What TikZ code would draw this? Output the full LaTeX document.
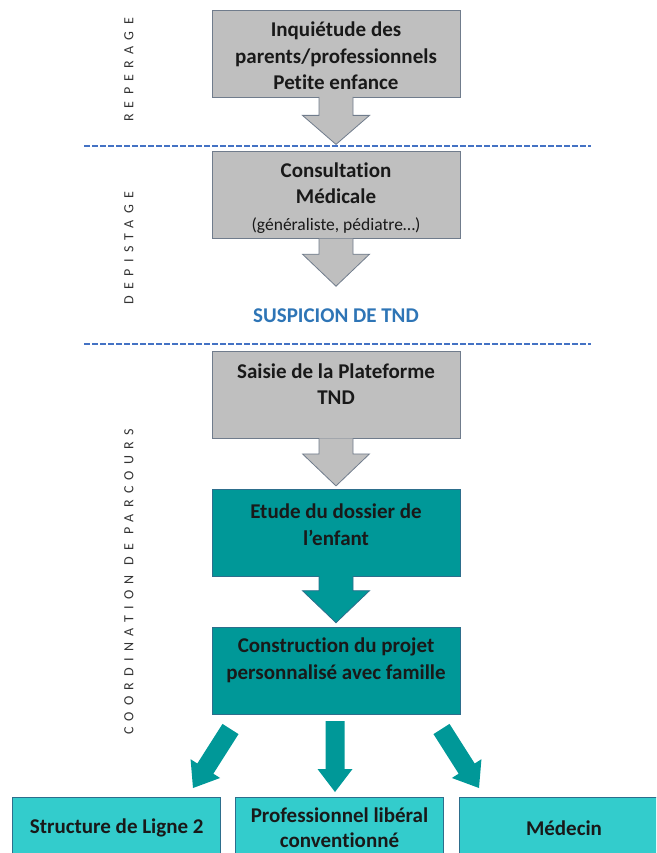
\documentclass[tikz,border=0pt]{standalone}
\usepackage{fontspec}
\setmainfont{Carlito}[Ligatures=NoCommon]
\usetikzlibrary{calc, positioning}
\definecolor{boxgray}{RGB}{191,191,191}
\definecolor{grayline}{RGB}{112,124,140}
\definecolor{tealdark}{RGB}{0,152,152}
\definecolor{tealline}{RGB}{45,110,140}
\definecolor{teallight}{RGB}{51,204,204}
\definecolor{dashblue}{RGB}{68,114,196}
\definecolor{suspblue}{RGB}{46,117,182}
\definecolor{txt}{RGB}{25,25,25}

% block arrow: [style]{from}{tip}{half shaft}{half head}{head length}
\newcommand{\blockarrow}[6][]{%
	\coordinate (ba-s) at (#2);
	\coordinate (ba-t) at (#3);
	\coordinate (ba-h) at ($(ba-t)!#6!(ba-s)$);
	\path[#1] ($(ba-s)!#4!90:(ba-t)$) -- ($(ba-h)!#4!90:(ba-t)$) -- ($(ba-h)!#5!90:(ba-t)$) -- (ba-t)
		-- ($(ba-h)!#5!-90:(ba-t)$) -- ($(ba-h)!#4!-90:(ba-t)$) -- ($(ba-s)!#4!-90:(ba-t)$);
}

\begin{document}
\begin{tikzpicture}[x=1pt, y=1pt,
		box/.style={rectangle, minimum width=248pt, minimum height=87pt, inner sep=0pt, line width=0.8pt},
		graybox/.style={box, fill=boxgray, draw=grayline},
		tealbox/.style={box, fill=tealdark, draw=tealline},
		endbox/.style={box, fill=teallight, draw=tealline, minimum width=208pt, minimum height=62pt,
			font=\bfseries\fontsize{21}{25}\selectfont, text=txt, align=center},
		boxtxt/.style={font=\bfseries\fontsize{21}{26.5}\selectfont, text=txt, align=center, inner sep=0pt},
		phase/.style={rotate=90, font=\fontsize{14}{16}\selectfont\addfontfeature{LetterSpace=45}, text=black!80},
		sep/.style={dashblue, line width=1.4pt, dash pattern=on 6pt off 2pt},
		grayarrow/.style={fill=boxgray, draw=grayline, line width=0.8pt},
		tealarrow/.style={fill=tealdark, draw=tealline, line width=0.8pt}]
	\useasboundingbox (0,0) rectangle (656,-853);
	\clip (0,0) rectangle (656,-853);

	% phases
	\node[phase] (rep) at (129,-70) {REPERAGE};
	\node[phase] (dep) at (129,-248) {DEPISTAGE};
	\node[phase] (coord) at (129,-582) {COORDINATION DE PARCOURS};
	\draw[sep] (84,-146) -- (591,-146);
	\draw[sep] (84,-344) -- (591,-344);

	% main column
	\node[graybox] (inq) at (336,-53.5) {};
	\node[graybox, below=54pt of inq] (consult) {};
	\node[graybox] (saisie) at (336,-395) {};
	\node[tealbox, below=50pt of saisie] (etude) {};
	\node[tealbox, below=50pt of etude] (constr) {};

	\blockarrow[grayarrow]{$(inq.south)+(0,.6)$}{$(consult.north)+(0,7)$}{17pt}{33.5pt}{29pt}
	\blockarrow[grayarrow]{$(consult.south)+(0,.6)$}{$(consult.south)+(0,-47)$}{17pt}{33.5pt}{32pt}
	\blockarrow[grayarrow]{$(saisie.south)+(0,.6)$}{$(etude.north)+(0,3)$}{17pt}{33.5pt}{32pt}
	\blockarrow[tealarrow]{$(etude.south)+(0,.6)$}{$(constr.north)+(0,4)$}{17pt}{33.5pt}{32pt}

	\node[boxtxt, below=12pt of inq.north] (inqT) {Inquiétude des\\parents/professionnels\\Petite enfance};
	\node[boxtxt, below=11pt of consult.north] (consultT) {Consultation\\Médicale\\{\mdseries\fontsize{17.5}{20}\selectfont (généraliste, pédiatre…)}};
	\node[font=\bfseries\fontsize{21}{24}\selectfont, text=suspblue] (susp) at (336,-316) {SUSPICION DE TND};
	\node[boxtxt, below=12pt of saisie.north] (saisieT) {Saisie de la Plateforme\\TND};
	\node[boxtxt, below=15pt of etude.north] (etudeT) {Etude du dossier de\\l’enfant};
	\node[boxtxt, below=11pt of constr.north] (constrT) {Construction du projet\\personnalisé avec famille};

	% orientations
	\node[endbox] (lig2) at (116.75,-828) {Structure de Ligne 2};
	\node[endbox] (prof) at (339.5,-828) {Professionnel libéral\\conventionné};
	\node[endbox, minimum width=210pt] (med) at (564,-828) {Médecin};

	\coordinate (a1) at (230.5,-729); \coordinate (b1) at (193,-788);
	\coordinate (a2) at (335,-721);   \coordinate (b2) at (335,-792);
	\coordinate (a3) at (441.5,-729); \coordinate (b3) at (479,-788);
	\foreach \s/\t in {a1/b1, a2/b2, a3/b3}
		\blockarrow[fill=tealdark]{\s}{\t}{9.5pt}{17.5pt}{23pt};
\end{tikzpicture}
\end{document}
